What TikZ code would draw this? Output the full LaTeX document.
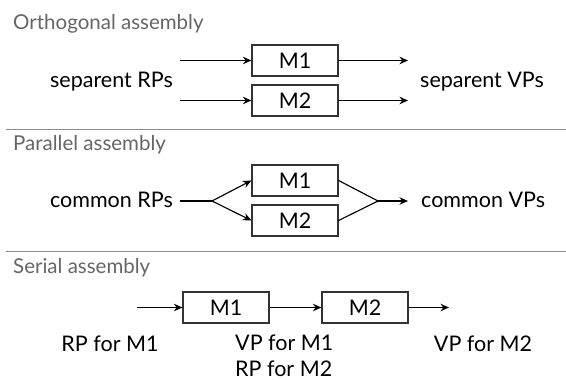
\documentclass[tikz,border=0pt]{standalone}
\usepackage{fontspec}
\setmainfont{Lato}
\usetikzlibrary{arrows.meta}
\newcommand{\labfont}{\fontsize{21.5}{26}\selectfont}
\newcommand{\ttlfont}{\fontsize{20.5}{24}\selectfont}
\begin{document}
\begin{tikzpicture}[x=1pt,y=-1pt,
  box/.style={draw=black!80, line width=1.2pt, minimum width=86pt, minimum height=31pt, inner sep=0pt, font=\labfont},
  lbl/.style={font=\labfont, inner sep=0pt},
  ttl/.style={font=\ttlfont, text=black!60, anchor=base west, inner sep=0pt},
  arr/.style={-{Stealth[length=8.5pt,width=7.5pt]}, line width=1.15pt},
  ln/.style={line width=1.15pt},
  sep/.style={draw=black!45, line width=1.5pt}]
\useasboundingbox (0,0) rectangle (566,380);
\fill[white] (0,0) rectangle (566,380);
% Orthogonal
\node[ttl] (t1) at (13,30) {Orthogonal assembly};
\node[box] (o1) at (295,60.5) {M1};
\node[box] (o2) at (295,100.5) {M2};
\coordinate (oi1) at (180,60.5);
\coordinate (oi2) at (180,100.5);
\coordinate (oo1) at (408,60.5);
\coordinate (oo2) at (408,100.5);
\node[lbl, anchor=base east] (orp) at (173,87) {separent RPs};
\node[lbl, anchor=base west] (ovp) at (420,87) {separent VPs};
\draw[arr] (oi1) -- (o1);
\draw[arr] (oi2) -- (o2);
\draw[arr] (o1) -- (oo1);
\draw[arr] (o2) -- (oo2);
\coordinate (s1a) at (6,129.5);
\coordinate (s1b) at (566,129.5);
\draw[sep] (s1a) -- (s1b);
% Parallel
\node[ttl] (t2) at (13,150) {Parallel assembly};
\node[box] (p1) at (295,180.5) {M1};
\node[box] (p2) at (295,220.5) {M2};
\node[lbl, anchor=base east] (prp) at (173,207) {common RPs};
\node[lbl, anchor=base west] (pvp) at (421,207) {common VPs};
\coordinate (pb) at (212,201);
\coordinate (pj) at (378,201);
\coordinate (po) at (408,201);
\draw[ln] (prp.east |- pb) ++(7,0) -- (pb);
\draw[arr] (pb) -- (p1.west);
\draw[arr] (pb) -- (p2.west);
\draw[ln] (p1.east) -- (pj);
\draw[ln] (p2.east) -- (pj);
\draw[arr] (pj) -- (po);
\coordinate (s2a) at (6,251.5);
\coordinate (s2b) at (566,251.5);
\draw[sep] (s2a) -- (s2b);
% Serial
\node[ttl] (t3) at (13,273) {Serial assembly};
\node[box] (m1) at (226,307.5) {M1};
\node[box] (m2) at (365,307.5) {M2};
\coordinate (si) at (137,307.5);
\coordinate (so) at (449,307.5);
\draw[arr] (si) -- (m1);
\draw[arr] (m1) -- (m2);
\draw[arr] (m2) -- (so);
\node[lbl, anchor=base] (r1) at (110,351) {RP for M1};
\node[lbl, anchor=base west, align=left] (v1) at (235,376) {VP for M1\\RP for M2};
\node[lbl, anchor=base] (v2) at (483,351) {VP for M2};
\end{tikzpicture}
\end{document}
